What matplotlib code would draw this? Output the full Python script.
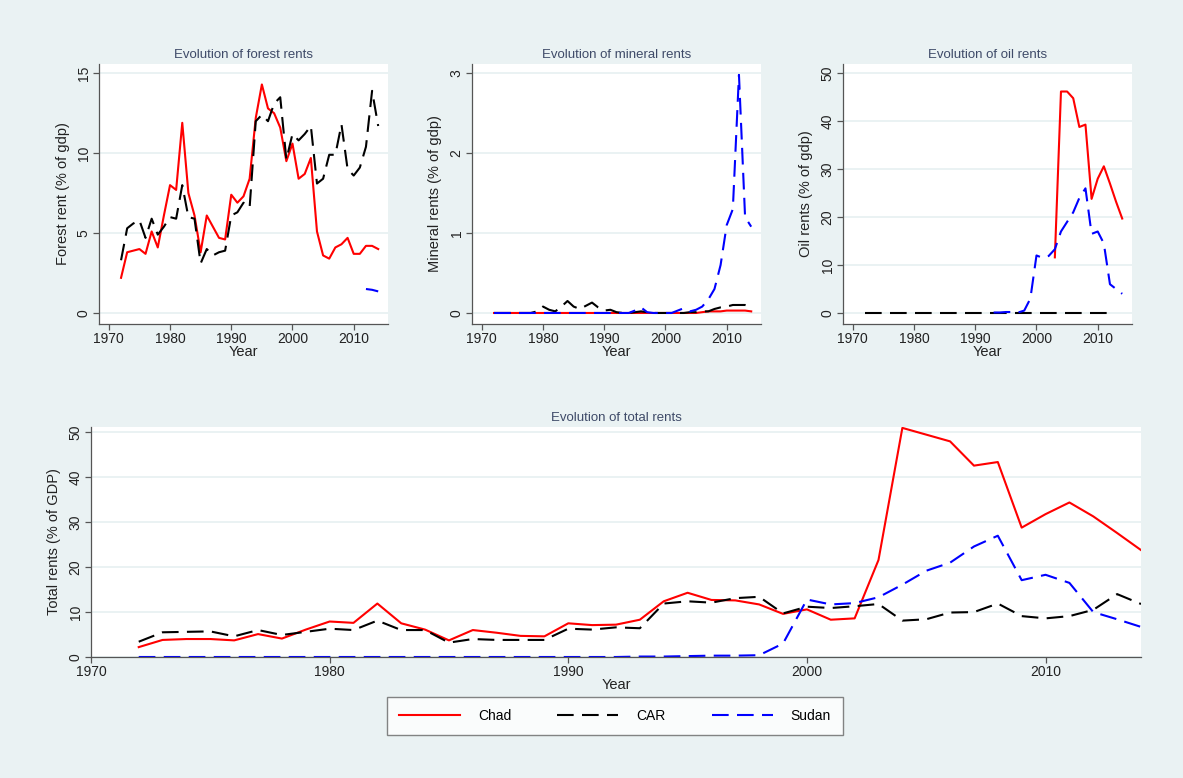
import numpy as np
import matplotlib
matplotlib.use("Agg")
import matplotlib.pyplot as plt
from matplotlib.lines import Line2D

plt.rcParams['font.family'] = ['Liberation Sans', 'DejaVu Sans']
plt.rcParams['lines.scale_dashes'] = False

years = list(range(1972, 2015))

# forest rents (% of gdp)
chad_forest = [2.2, 3.8, 3.9, 4.0, 3.7, 5.1, 4.1, 6.1, 8.0, 7.7,
               11.9, 7.5, 6.1, 3.8, 6.1, 5.4, 4.7, 4.6, 7.4, 6.9,
               7.3, 8.4, 12.2, 14.3, 12.8, 12.5, 11.6, 9.5, 10.6, 8.4,
               8.7, 9.7, 5.1, 3.6, 3.4, 4.1, 4.3, 4.7, 3.7, 3.7,
               4.2, 4.2, 4.0]
car_forest = [3.3, 5.3, 5.6, 5.8, 4.7, 5.9, 4.9, 5.4, 6.0, 5.9,
              8.0, 6.0, 5.9, 3.1, 4.0, 3.6, 3.8, 3.9, 6.1, 6.3,
              6.9, 6.6, 12.0, 12.4, 12.0, 13.1, 13.5, 9.6, 11.2, 10.8,
              11.2, 11.7, 8.1, 8.4, 9.9, 9.9, 11.8, 9.0, 8.6, 9.1,
              10.4, 13.9, 11.7]
sudan_forest_years = [2012, 2013, 2014]
sudan_forest = [1.5, 1.45, 1.35]

# mineral rents (% of gdp)
chad_mineral = [0.0] * 34 + [0.01, 0.02, 0.02, 0.02, 0.03, 0.03, 0.03, 0.03, 0.02]
car_mineral = [0, 0, 0, 0, 0, 0, 0, 0.02, 0.08, 0.04,
               0.02, 0.08, 0.15, 0.08, 0.05, 0.09, 0.13, 0.07, 0.03, 0.04,
               0.01, 0, 0, 0.01, 0.02, 0.01, 0, 0, 0, 0,
               0, 0, 0.01, 0.01, 0.02, 0.02, 0.05, 0.07, 0.08, 0.1,
               0.1, 0.1, 0.08]
sudan_mineral = [0.0] * 20 + [0, 0, 0, 0.03, 0.07, 0.01, 0, 0, 0, 0,
                              0.03, 0.06, 0.02, 0.04, 0.08, 0.17, 0.3, 0.6, 1.1, 1.3,
                              2.98, 1.2, 1.08]

# oil rents (% of gdp)
chad_oil_years = list(range(2003, 2015))
chad_oil = [11.6, 46.2, 46.2, 44.8, 38.8, 39.3, 23.8, 28.0, 30.6, 27.0, 23.2, 19.7]
car_oil_years = list(range(1972, 2013))
car_oil = [0.0] * 41
sudan_oil_years = list(range(1993, 2015))
sudan_oil = [0.1, 0.1, 0.2, 0.2, 0.1, 0.5, 3.0, 12.0, 11.5, 11.9, 13.3,
             17.0, 19.0, 21.0, 24.0, 26.0, 16.5, 17.0, 14.5, 6.0, 5.0, 4.0]

# total rents (% of GDP)
chad_total = [2.2, 3.8, 4.0, 4.0, 3.7, 5.1, 4.1, 6.1, 7.9, 7.6,
              11.9, 7.5, 6.1, 3.7, 6.0, 5.4, 4.7, 4.6, 7.5, 7.1,
              7.2, 8.3, 12.4, 14.3, 12.7, 12.6, 11.7, 9.6, 10.6, 8.3,
              8.6, 21.6, 51.0, 49.5, 48.0, 42.6, 43.4, 28.8, 31.8, 34.4,
              31.3, 27.6, 23.8]
car_total = [3.4, 5.5, 5.6, 5.7, 4.6, 6.0, 4.9, 5.6, 6.3, 6.0,
             8.1, 6.0, 6.0, 3.2, 4.0, 3.8, 3.8, 3.8, 6.3, 6.1,
             6.6, 6.4, 11.9, 12.4, 12.1, 13.1, 13.4, 9.7, 11.2, 10.9,
             11.3, 11.8, 8.1, 8.4, 9.9, 10.0, 11.9, 9.1, 8.6, 9.1,
             10.5, 14.0, 11.8]
sudan_total = [0.0] * 20 + [0.0, 0.1, 0.1, 0.2, 0.3, 0.3, 0.4, 3.0, 12.8, 11.7,
                            12.0, 13.3, 16.1, 19.2, 21.0, 24.6, 27.0, 17.1, 18.3, 16.5,
                            10.0, 8.4, 6.7]

countries = ["Chad", "CAR", "Sudan"]

BG = '#eaf2f3'
RED = '#ff0000'
BLUE = '#0000ff'
DASH = (12, 6)
AXC = '#555555'
TITLEC = '#3e4a68'

W, H = 1183, 778
fig = plt.figure(figsize=(W / 100, H / 100), dpi=100, facecolor=BG)


def px_axes(x0, y0, x1, y1):
    return fig.add_axes([x0 / W, 1 - y1 / H, (x1 - x0) / W, (y1 - y0) / H])


def style(ax, title, ylabel, yticks, ylim, xlim, xticks, labx):
    ax.set_facecolor('white')
    for s in ['top', 'right']:
        ax.spines[s].set_visible(False)
    for s in ['left', 'bottom']:
        ax.spines[s].set_color(AXC)
        ax.spines[s].set_linewidth(0.9)
    ax.set_xlim(xlim)
    ax.set_ylim(ylim)
    ax.set_xticks(xticks)
    ax.set_yticks(yticks)
    ax.grid(axis='y', color=BG, linewidth=1.4)
    ax.set_axisbelow(True)
    ax.tick_params(length=4, width=0.9, color=AXC, labelsize=10, labelcolor='#222222', pad=2)
    ax.tick_params(axis='y', labelrotation=90)
    for lab in ax.get_yticklabels():
        lab.set_va('center')
    ax.set_title(title, fontsize=9.5, color=TITLEC, pad=4)
    ax.set_xlabel('Year', fontsize=10.5, labelpad=-1, color='#222222')
    ax.set_ylabel(ylabel, fontsize=10.5, color='#222222')
    ax.yaxis.set_label_coords(labx, 0.5)


xl_top = (1968.4, 2015.6)
dec = [1970, 1980, 1990, 2000, 2010]

# forest
ax1 = px_axes(99, 64, 388, 324)
ax1.plot(years, chad_forest, color=RED, lw=1.5)
ax1.plot(years, car_forest, color='black', lw=1.5, dashes=DASH)
ax1.plot(sudan_forest_years, sudan_forest, color=BLUE, lw=1.5, dashes=DASH)
style(ax1, 'Evolution of forest rents', 'Forest rent (% of gdp)', [0, 5, 10, 15],
      (-0.69, 15.58), xl_top, dec, -0.099)

# mineral
ax2 = px_axes(472, 64, 761, 324)
ax2.plot(years, chad_mineral, color=RED, lw=1.5)
ax2.plot(years, car_mineral, color='black', lw=1.5, dashes=DASH)
ax2.plot(years, sudan_mineral, color=BLUE, lw=1.5, dashes=DASH)
style(ax2, 'Evolution of mineral rents', 'Mineral rents (% of gdp)', [0, 1, 2, 3],
      (-0.138, 3.116), xl_top, dec, -0.105)

# oil
ax3 = px_axes(843, 64, 1132, 324)
ax3.plot(chad_oil_years, chad_oil, color=RED, lw=1.5)
ax3.plot(car_oil_years, car_oil, color='black', lw=1.5, dashes=DASH)
ax3.plot(sudan_oil_years, sudan_oil, color=BLUE, lw=1.5, dashes=DASH)
style(ax3, 'Evolution of oil rents', 'Oil rents (% of gdp)', [0, 10, 20, 30, 40, 50],
      (-2.3, 51.94), xl_top, dec, -0.105)

# total
ax4 = px_axes(91, 427, 1141, 657)
ax4.plot(years, chad_total, color=RED, lw=1.5)
ax4.plot(years, car_total, color='black', lw=1.5, dashes=DASH)
ax4.plot(years, sudan_total, color=BLUE, lw=1.5, dashes=DASH)
style(ax4, 'Evolution of total rents', 'Total rents (% of GDP)', [0, 10, 20, 30, 40, 50],
      (0, 51.2), (1970, 2014), dec, -0.029)

handles = [Line2D([], [], color=RED, lw=1.5),
           Line2D([], [], color='black', lw=1.5, dashes=DASH),
           Line2D([], [], color=BLUE, lw=1.5, dashes=DASH)]
leg = fig.legend(handles, countries, loc='center', bbox_to_anchor=(615 / W, 1 - 716 / H),
                 ncol=3, fontsize=10, handlelength=4.4, handletextpad=1.3,
                 columnspacing=3.3, frameon=True, fancybox=False, borderpad=0.85,
                 borderaxespad=0)
leg.get_frame().set_edgecolor('#666666')
leg.get_frame().set_linewidth(1.0)
leg.get_frame().set_facecolor('white')

fig.savefig('out.png', dpi=100, facecolor=BG)
